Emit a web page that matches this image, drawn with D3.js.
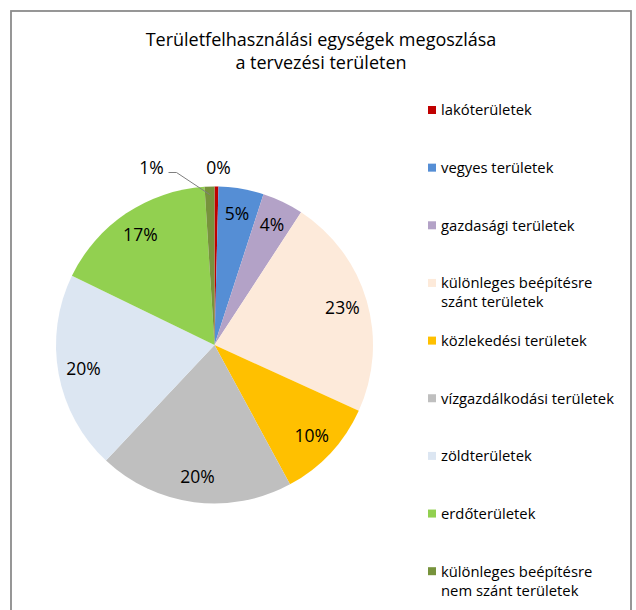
<!DOCTYPE html>
<html>
<head>
<meta charset="utf-8">
<script src="https://cdn.jsdelivr.net/npm/d3@7"></script>
<style>
  html, body { margin: 0; padding: 0; background: #fff; }
  svg { display: block; }
  text { font-family: "Open Sans", "Noto Sans", sans-serif; fill: #000; }
</style>
</head>
<body>
<svg id="chart" width="636" height="610"></svg>
<script>
// Land-use categories and their shares (%) of the planning area
const categories = [
  "lakóterületek",
  "vegyes területek",
  "gazdasági területek",
  "különleges beépítésre szánt területek",
  "közlekedési területek",
  "vízgazdálkodási területek",
  "zöldterületek",
  "erdőterületek",
  "különleges beépítésre nem szánt területek"
];
const shares = [0.4, 4.6, 4.2, 22.6, 10.3, 19.9, 20.2, 16.8, 1.0];
const legendLines = [
  ["lakóterületek"],
  ["vegyes területek"],
  ["gazdasági területek"],
  ["különleges beépítésre", "szánt területek"],
  ["közlekedési területek"],
  ["vízgazdálkodási területek"],
  ["zöldterületek"],
  ["erdőterületek"],
  ["különleges beépítésre", "nem szánt területek"]
];
const colors = ["#C00000", "#558ED5", "#B3A2C7", "#FDEADA", "#FFC000",
                "#BFBFBF", "#DCE6F2", "#92D050", "#77933C"];
const titleLines = ["Területfelhasználási egységek megoszlása", "a tervezési területen"];

const svg = d3.select("#chart");

// chart frame
svg.append("rect")
  .attr("x", 11).attr("y", 11)
  .attr("width", 620).attr("height", 640)
  .attr("fill", "#fff")
  .attr("stroke", "#8c8c8c")
  .attr("stroke-width", 1.8);

// title
svg.append("g").selectAll("text")
  .data(titleLines)
  .join("text")
  .attr("x", 321)
  .attr("y", (d, i) => 46 + i * 23)
  .attr("text-anchor", "middle")
  .attr("font-size", 18)
  .text(d => d);

// pie
const cx = 214.5, cy = 345, R = 158.5;
const total = d3.sum(shares);
const pct = d3.format(".0%");
const color = d3.scaleOrdinal().domain(categories).range(colors);

const pie = d3.pie().sort(null).value(d => d.v);
const arcs = pie(categories.map((c, i) => ({ c, v: shares[i] })));
const arc = d3.arc().innerRadius(0).outerRadius(R);

const g = svg.append("g").attr("transform", `translate(${cx},${cy})`);
g.selectAll("path")
  .data(arcs)
  .join("path")
  .attr("d", arc)
  .attr("fill", d => color(d.data.c));

// data labels: large slices inside, thin slices above the pie
const labelArc = d3.arc().innerRadius(R * 0.84).outerRadius(R * 0.84);
const inside = arcs.filter(d => d.data.v / total >= 0.02);
const outside = arcs.filter(d => d.data.v / total < 0.02);

g.selectAll("text.in")
  .data(inside)
  .join("text")
  .attr("class", "in")
  .attr("transform", d => `translate(${labelArc.centroid(d)})`)
  .attr("text-anchor", "middle")
  .attr("dy", "0.36em")
  .attr("font-size", 17.5)
  .text(d => pct(d.data.v / total));

// outside labels sit on a row above the pie; the second one is pushed left
// and tied back to its slice with a leader line
const outY = -R - 19;
outside.forEach((d, k) => {
  const mid = (d.startAngle + d.endAngle) / 2;
  const ax = Math.sin(mid) * R, ay = -Math.cos(mid) * R;
  let lx = mid > Math.PI ? ax - 4 : ax + 2;
  if (d.data.v > 0.5 && k > 0) lx = ax - 58;
  g.append("text")
    .attr("x", lx).attr("y", outY)
    .attr("text-anchor", "middle")
    .attr("dy", "0.36em")
    .attr("font-size", 17.5)
    .text(pct(d.data.v / total));
  if (Math.abs(lx - ax) > 20) {
    const inner = d3.arc().innerRadius(R - 8).outerRadius(R - 8).centroid(d);
    g.append("polyline")
      .attr("points", [[lx + 17, outY + 5], [lx + 25, outY + 5], inner].map(p => p.join(",")).join(" "))
      .attr("fill", "none")
      .attr("stroke", "#7f7f7f")
      .attr("stroke-width", 1);
  }
});

// legend
const legend = svg.append("g").attr("transform", "translate(428,110)");
const item = legend.selectAll("g")
  .data(categories)
  .join("g")
  .attr("transform", (d, i) => `translate(0,${i * 57.65})`);
item.append("rect")
  .attr("x", 0).attr("y", -4)
  .attr("width", 8).attr("height", 8)
  .attr("fill", d => color(d));
item.append("text")
  .attr("x", 13)
  .attr("font-size", 14.8)
  .selectAll("tspan")
  .data((d, i) => legendLines[i])
  .join("tspan")
  .attr("x", 13)
  .attr("y", (d, j) => j * 19)
  .attr("dy", "0.36em")
  .text(d => d);
</script>
</body>
</html>
